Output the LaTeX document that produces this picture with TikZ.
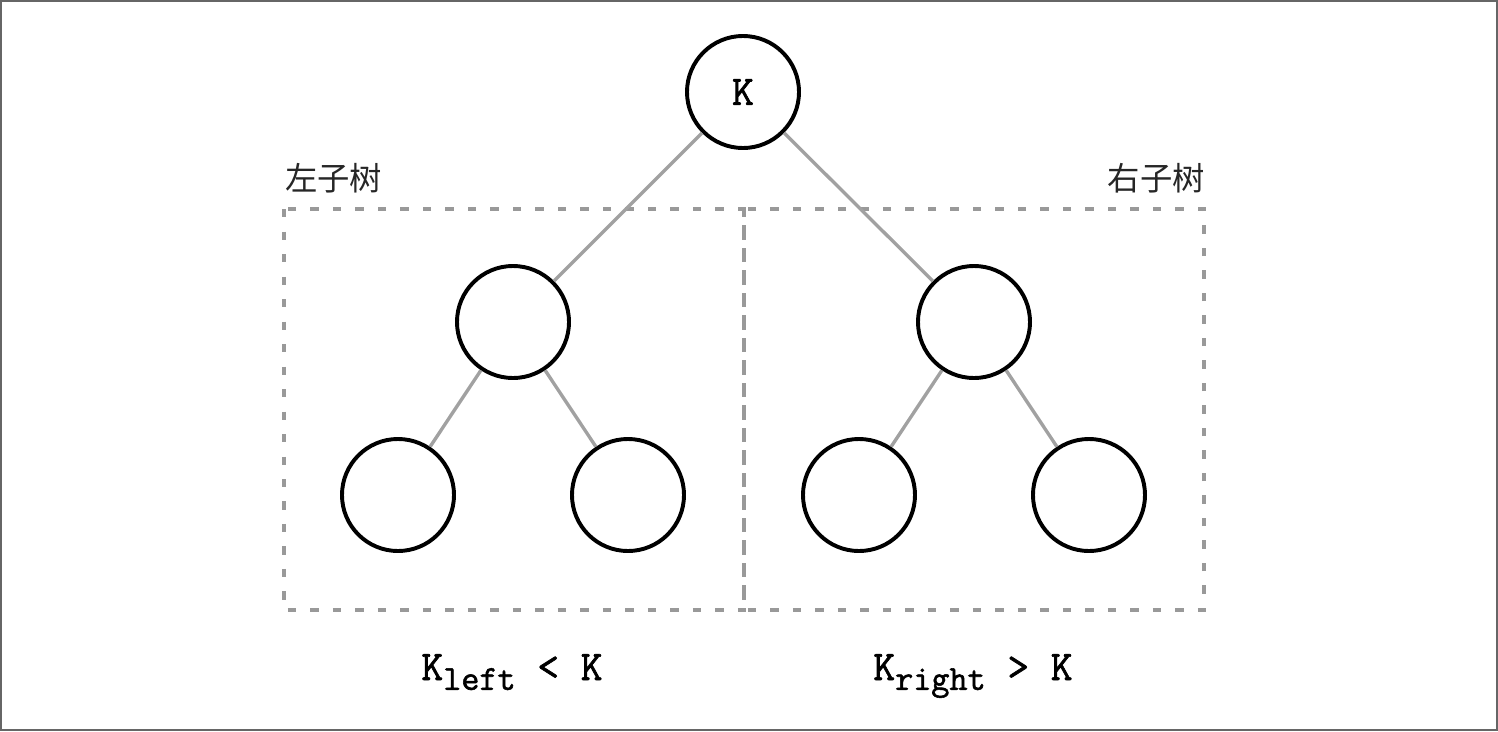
\documentclass[tikz,border=0pt]{standalone}
\usepackage{fontspec}
\newfontfamily\cjk{Noto Sans CJK SC}
\newfontfamily\monok{Latin Modern Mono}[BoldFont=Latin Modern Mono, BoldFeatures={FakeBold=1.6}]

\begin{document}
\begin{tikzpicture}[
    x=0.025cm, y=-0.025cm,
    treenode/.style={draw, circle, line width=2.8pt, minimum size=2.8cm, inner sep=0pt, font=\monok\bfseries\fontsize{30}{32}\selectfont},
    edge/.style={draw=black!37, line width=2.4pt},
    subtree/.style={draw=black!40, line width=2.4pt, dash pattern=on 6pt off 10pt},
    caption/.style={inner sep=0pt, text=black!85, font=\cjk\fontsize{23}{25}\selectfont},
    relation/.style={inner sep=0pt, font=\monok\bfseries\fontsize{30}{32}\selectfont}
]
\useasboundingbox (0,0) rectangle (1498,731);
\draw[black!60, line width=1.4pt] (1,1) rectangle (1497,730);

% Subtree boxes
\draw[subtree] (284,209) rectangle (744,610);
\draw[subtree] (744,209) rectangle (1204,610);

% Tree
\node[treenode] (root) at (743,92) {K};
\node[treenode] (midl) at (513,322) {};
\node[treenode] (midr) at (974,322) {};
\node[treenode] (leafa) at (398,495) {};
\node[treenode] (leafb) at (628,495) {};
\node[treenode] (leafc) at (859,495) {};
\node[treenode] (leafd) at (1089,495) {};

% Edges
\draw[edge] (root) -- (midl);
\draw[edge] (root) -- (midr);
\draw[edge] (midl) -- (leafa);
\draw[edge] (midl) -- (leafb);
\draw[edge] (midr) -- (leafc);
\draw[edge] (midr) -- (leafd);

% Labels
\node[caption, anchor=west] (lefttitle) at (285,178) {左子树};
\node[caption, anchor=east] (righttitle) at (1205,178) {右子树};
\node[relation, anchor=base] (leftrel) at (512,680) {K\raisebox{-7pt}{\fontsize{25}{26}\selectfont left} < K};
\node[relation, anchor=base] (rightrel) at (973,680) {K\raisebox{-7pt}{\fontsize{25}{26}\selectfont right} > K};
\end{tikzpicture}
\end{document}
